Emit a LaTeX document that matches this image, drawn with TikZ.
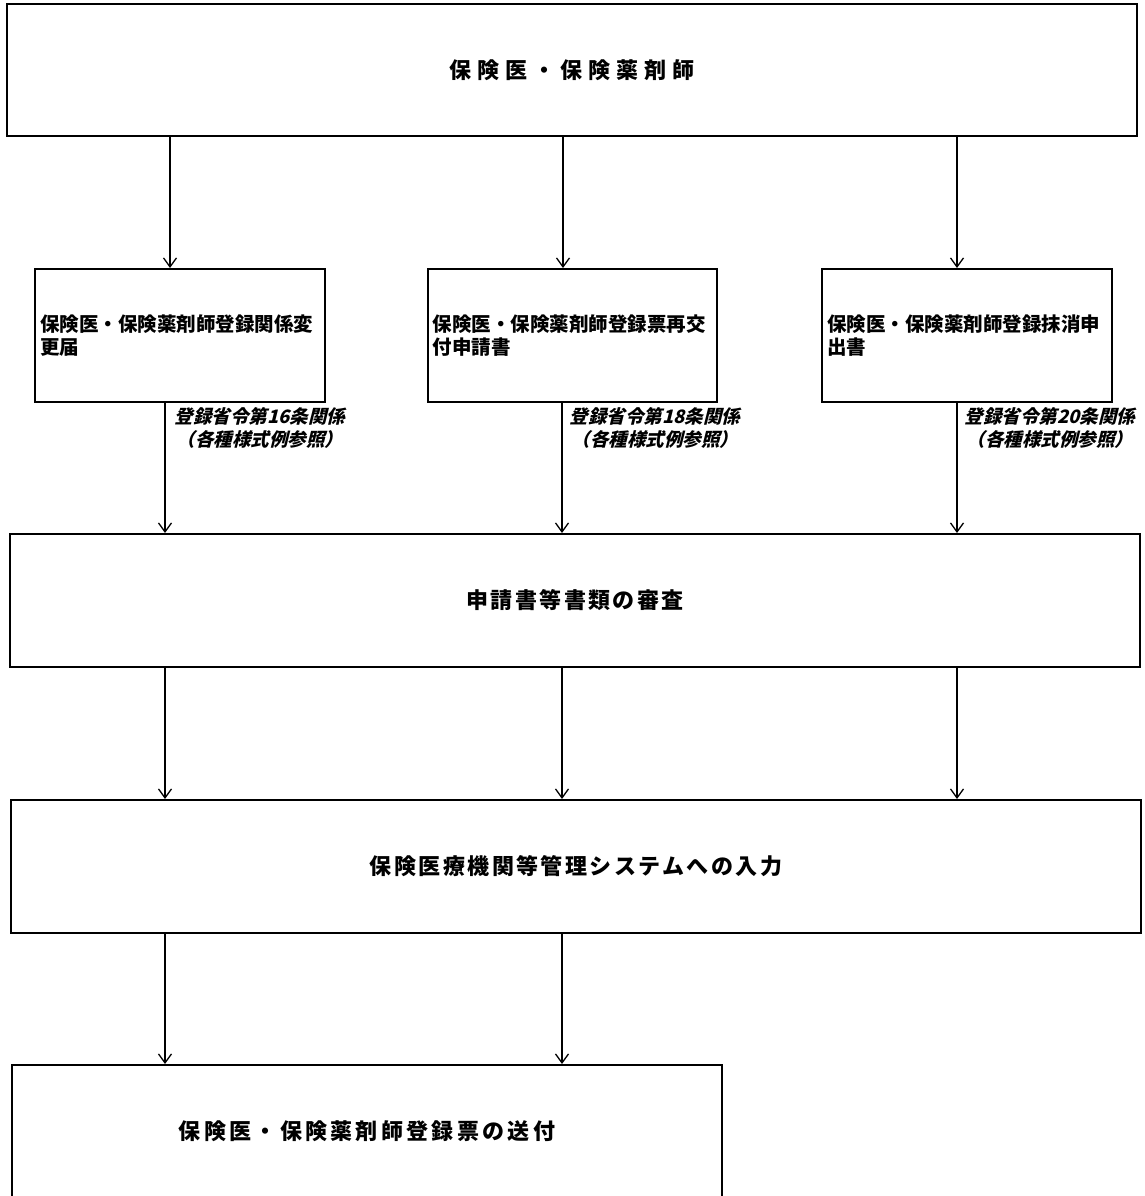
\documentclass[tikz,border=0pt]{standalone}
\usepackage{fontspec}
\usetikzlibrary{arrows.meta}
\newfontfamily\jp{Noto Sans CJK JP}
\newfontfamily\jptitle[LetterSpace=27]{Noto Sans CJK JP}
\newfontfamily\jpmid[LetterSpace=11]{Noto Sans CJK JP}
\newfontfamily\jpsend[LetterSpace=15]{Noto Sans CJK JP}
\newfontfamily\jpit[FakeSlant=0.25]{Noto Sans CJK JP}
\begin{document}
\begin{tikzpicture}[x=1pt,y=-1pt,
  box/.style={draw, line width=2pt, inner sep=0pt},
  arr/.style={line width=1.3pt, -{Straight Barb[length=9pt,width=13pt,line width=1.3pt]}},
  smallbox/.style={box, minimum width=290pt, minimum height=133pt, text width=280pt, align=left,
    font=\jp\bfseries\fontsize{19.5}{23}\selectfont},
  widebox/.style={box, minimum width=1130pt, minimum height=133pt,
    font=\jpmid\bfseries\fontsize{22}{26}\selectfont},
  note/.style={inner sep=0pt, align=center, font=\jpit\bfseries\fontsize{18.5}{23}\selectfont},
]
\useasboundingbox (0,0) rectangle (1145,1196);
\clip (0,0) rectangle (1145,1196);

\node[box, minimum width=1130pt, minimum height=132pt,
  font=\jptitle\bfseries\fontsize{22}{26}\selectfont] (top) at (572,70) {保険医・保険薬剤師};

\node[smallbox] (b1) at (180,335.5) {保険医・保険薬剤師登録関係変\\更届};
\node[smallbox, minimum width=289pt] (b2) at (572.5,335.5) {保険医・保険薬剤師登録票再交\\付申請書};
\node[smallbox] (b3) at (967,335.5) {保険医・保険薬剤師登録抹消申\\出書};

\node[widebox] (b4) at (575,600.5) {申請書等書類の審査};
\node[widebox] (b5) at (576,866.5) {保険医療機関等管理システムへの入力};
\node[widebox, minimum width=710pt, font=\jpsend\bfseries\fontsize{22}{26}\selectfont] (b6) at (367,1131.5) {保険医・保険薬剤師登録票の送付};

\node[note] (l1) at (260,428) {登録省令第16条関係\\（各種様式例参照）};
\node[note] (l2) at (655,428) {登録省令第18条関係\\（各種様式例参照）};
\node[note] (l3) at (1050,428) {登録省令第20条関係\\（各種様式例参照）};

\coordinate (c1) at (165,0);
\coordinate (c2) at (562,0);
\coordinate (c3) at (957,0);

% top -> three forms
\draw[arr] ([xshift=-10pt]b1.north |- top.south) -- ([xshift=-10pt]b1.north);
\draw[arr] ([xshift=-9.5pt]b2.north |- top.south) -- ([xshift=-9.5pt]b2.north);
\draw[arr] ([xshift=-10pt]b3.north |- top.south) -- ([xshift=-10pt]b3.north);

% forms -> review
\draw[arr] (b1.south -| c1) -- (b4.north -| c1);
\draw[arr] (b2.south -| c2) -- (b4.north -| c2);
\draw[arr] (b3.south -| c3) -- (b4.north -| c3);

% review -> input
\draw[arr] (b4.south -| c1) -- (b5.north -| c1);
\draw[arr] (b4.south -| c2) -- (b5.north -| c2);
\draw[arr] (b4.south -| c3) -- (b5.north -| c3);

% input -> send
\draw[arr] (b5.south -| c1) -- (b6.north -| c1);
\draw[arr] (b5.south -| c2) -- (b6.north -| c2);
\end{tikzpicture}
\end{document}
